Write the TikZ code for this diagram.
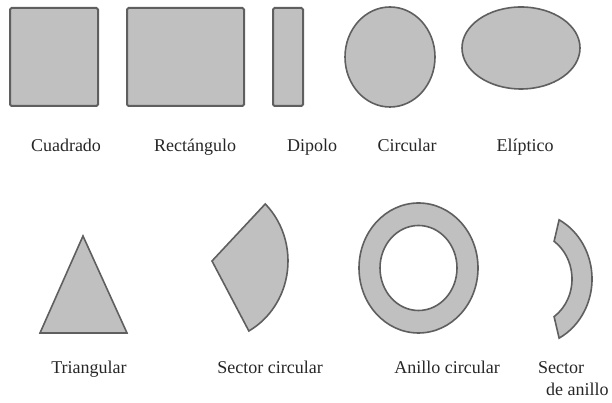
\documentclass[tikz,border=0pt]{standalone}
\usepackage{fontspec}
\setmainfont{Liberation Serif}
\usepackage{tikz}
\usetikzlibrary{shapes.geometric,calc}
\usepackage{xcolor}
\definecolor{ShapeFill}{HTML}{C0C0C0}
\definecolor{ShapeLine}{HTML}{5F5F5F}
\definecolor{LabelText}{HTML}{262626}

\begin{document}
\begin{tikzpicture}[x=1pt, y=1pt, font=\fontsize{18}{21}\selectfont,
   shp/.style={draw=ShapeLine, fill=ShapeFill, line width=1.6pt},
   rbox/.style={shp, rectangle, rounded corners=1.5pt, inner sep=0pt, line width=2pt},
   oval/.style={shp, ellipse, inner sep=0pt},
   lbl/.style={text=LabelText, anchor=base, inner sep=0pt}]
  \useasboundingbox (0,0) rectangle (612,403);
  % fila superior
  \node[rbox, minimum width=88pt,  minimum height=98pt]  (cuad) at (54,346)    {};
  \node[rbox, minimum width=117pt, minimum height=98pt]  (rect) at (185.5,346) {};
  \node[rbox, minimum width=30pt,  minimum height=98pt]  (dip)  at (288,346)   {};
  \node[oval, minimum width=90pt,  minimum height=100pt] (circ) at (390,346)   {};
  \node[oval, minimum width=118pt, minimum height=82pt]  (elip) at (521,355)   {};
  \node[lbl] (lcuad) at (66,251)  {Cuadrado};
  \node[lbl] (lrect) at (195,251) {Rectángulo};
  \node[lbl] (ldip)  at (312,251) {Dipolo};
  \node[lbl] (lcirc) at (407,251) {Circular};
  \node[lbl] (lelip) at (525,251) {Elíptico};
  % fila inferior
  \coordinate (sc) at (212,142);
  \coordinate (an) at (418.5,135);
  \coordinate (sa) at (530,124);
  \draw[shp] (83,167) -- (127,70) -- (40,70) -- cycle;
  \draw[shp] (sc) -- ++(45.5:76 and 80)
    arc[start angle=45.5, end angle=-61, x radius=76, y radius=80] -- cycle;
  \draw[shp, even odd rule] (an) ellipse[x radius=59.5, y radius=65]
    (an) ellipse[x radius=38.5, y radius=42.5];
  \draw[shp] (sa) ++(62:62 and 67)
    arc[start angle=62, end angle=-62, x radius=62, y radius=67]
    -- ($(sa)+(-55:42 and 46)$)
    arc[start angle=-55, end angle=55, x radius=42, y radius=46] -- cycle;
  \node[lbl] (ltri) at (89,29)  {Triangular};
  \node[lbl] (lsc)  at (270,29) {Sector circular};
  \node[lbl] (lan)  at (447,29) {Anillo circular};
  \node[lbl, anchor=base west] (lsa1) at (538,29) {Sector};
  \node[lbl, anchor=base west] (lsa2) at (546,7)  {de anillo};
\end{tikzpicture}
\end{document}
